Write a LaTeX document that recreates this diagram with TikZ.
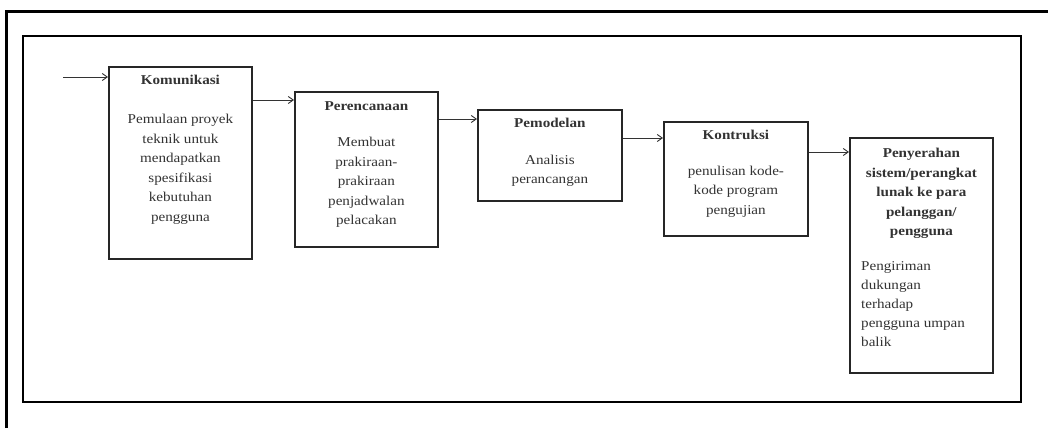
\documentclass[tikz,border=0pt]{standalone}
\usepackage{fontspec}
\setmainfont{Liberation Serif}[FakeStretch=1.12]
\usetikzlibrary{arrows.meta}
\tikzset{
  box/.style={draw=black!85, line width=1.8pt, rectangle, inner sep=0pt, anchor=north west},
  txt/.style={inner sep=0pt, align=center, text=black!80, font=\fontsize{13.5}{19.5}\selectfont},
  txtl/.style={inner sep=0pt, align=left, text=black!80, font=\fontsize{13.5}{19}\selectfont},
  arr/.style={draw=black!80, line width=0.9pt, -{Straight Barb[length=5pt,width=7pt]}},
  frame/.style={draw=black, line width=2pt}
}
\begin{document}
\begin{tikzpicture}[x=1pt,y=-1pt]
\useasboundingbox[fill=white] (0,0) rectangle (1048,428);
% outer frame
\draw[line width=3pt] (6.5,428) -- (6.5,11.5) -- (1048,11.5);
% inner frame
\node[frame, rectangle, anchor=north west, minimum width=998pt, minimum height=366pt, inner sep=0pt] (fr) at (22,35) {};
% boxes
\node[box, minimum width=143pt, minimum height=192pt] (k) at (108,66) {};
\node[box, minimum width=143pt, minimum height=155pt] (p) at (294,91) {};
\node[box, minimum width=144pt, minimum height=91pt] (m) at (477,109) {};
\node[box, minimum width=144pt, minimum height=114pt] (ko) at (663,121) {};
\node[box, minimum width=143pt, minimum height=235pt] (s) at (849,137) {};
% texts
\node[txt, anchor=north] (kt) at ([yshift=-9pt]k.north) {\textbf{Komunikasi}\\[19.5pt]Pemulaan proyek\\teknik untuk\\mendapatkan\\spesifikasi\\kebutuhan\\pengguna};
\node[txt, anchor=north] (pt) at ([yshift=-10pt]p.north) {\textbf{Perencanaan}\\[17pt]Membuat\\prakiraan-\\prakiraan\\penjadwalan\\pelacakan};
\node[txt, anchor=north] (mt) at ([yshift=-9pt]m.north) {\textbf{Pemodelan}\\[17pt]Analisis\\perancangan};
\node[txt, anchor=north] (kot) at ([yshift=-9pt]ko.north) {\textbf{Kontruksi}\\[16pt]penulisan kode-\\kode program\\pengujian};
\node[txt, anchor=north] (st) at ([yshift=-11pt]s.north) {\textbf{Penyerahan}\\\textbf{sistem/perangkat}\\\textbf{lunak ke para}\\\textbf{pelanggan/}\\\textbf{pengguna}};
\node[txtl, anchor=north west] (sb) at ([xshift=12pt,yshift=-124pt]s.north west) {Pengiriman\\dukungan\\terhadap\\pengguna umpan\\balik};
% connectors
\coordinate (in) at (63,77);
\draw[arr] (in) -- (in -| k.west);
\draw[arr] ([yshift=-34pt]k.north east) -- ([yshift=-34pt]k.north east -| p.west);
\draw[arr] ([yshift=-28pt]p.north east) -- ([yshift=-28pt]p.north east -| m.west);
\draw[arr] ([yshift=-29pt]m.north east) -- ([yshift=-29pt]m.north east -| ko.west);
\draw[arr] ([yshift=-31pt]ko.north east) -- ([yshift=-31pt]ko.north east -| s.west);
\end{tikzpicture}
\end{document}
